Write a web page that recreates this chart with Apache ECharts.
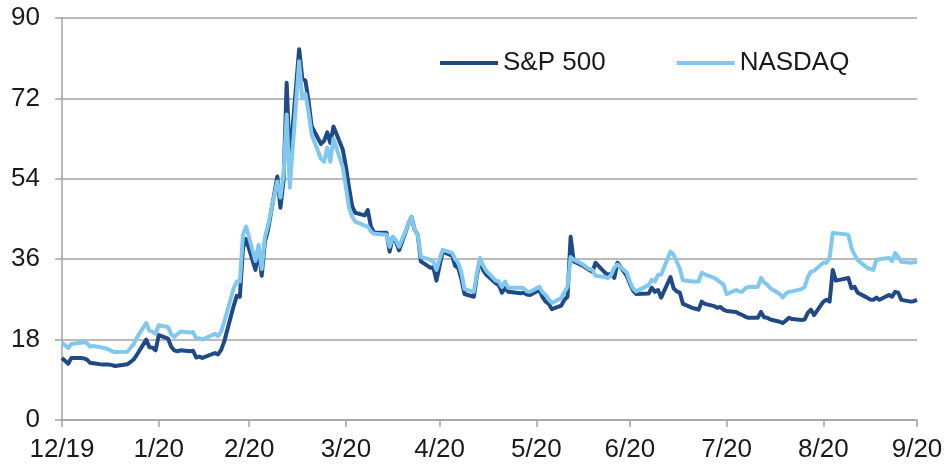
<!DOCTYPE html>
<html>
<head>
<meta charset="utf-8">
<script src="https://cdn.jsdelivr.net/npm/echarts@6/dist/echarts.min.js"></script>
<style>
  html, body { margin: 0; padding: 0; background: #fff; }
  #chart { width: 944px; height: 465px; }
</style>
</head>
<body>
<div id="chart"></div>
<script>
// trading days, Dec 2019 - Sep 2020
const dates = [
  '2019-12-31',
  '2020-01-02','2020-01-03','2020-01-06','2020-01-07','2020-01-08','2020-01-09','2020-01-10','2020-01-13','2020-01-14','2020-01-15',
  '2020-01-16','2020-01-17','2020-01-21','2020-01-22','2020-01-23','2020-01-24','2020-01-27','2020-01-28','2020-01-29','2020-01-30','2020-01-31',
  '2020-02-03','2020-02-04','2020-02-05','2020-02-06','2020-02-07','2020-02-10','2020-02-11','2020-02-12','2020-02-13','2020-02-14',
  '2020-02-18','2020-02-19','2020-02-20','2020-02-21','2020-02-24','2020-02-25','2020-02-26','2020-02-27','2020-02-28',
  '2020-03-02','2020-03-03','2020-03-04','2020-03-05','2020-03-06','2020-03-09','2020-03-10','2020-03-11','2020-03-12','2020-03-13',
  '2020-03-16','2020-03-17','2020-03-18','2020-03-19','2020-03-20','2020-03-23','2020-03-24','2020-03-25','2020-03-26','2020-03-27','2020-03-30','2020-03-31',
  '2020-04-01','2020-04-02','2020-04-03','2020-04-06','2020-04-07','2020-04-08','2020-04-09','2020-04-13','2020-04-14','2020-04-15',
  '2020-04-16','2020-04-17','2020-04-20','2020-04-21','2020-04-22','2020-04-23','2020-04-24','2020-04-27','2020-04-28','2020-04-29','2020-04-30',
  '2020-05-01','2020-05-04','2020-05-05','2020-05-06','2020-05-07','2020-05-08','2020-05-11','2020-05-12','2020-05-13','2020-05-14',
  '2020-05-15','2020-05-18','2020-05-19','2020-05-20','2020-05-21','2020-05-22','2020-05-26','2020-05-27','2020-05-28','2020-05-29',
  '2020-06-01','2020-06-02','2020-06-03','2020-06-04','2020-06-05','2020-06-08','2020-06-09','2020-06-10','2020-06-11','2020-06-12',
  '2020-06-15','2020-06-16','2020-06-17','2020-06-18','2020-06-19','2020-06-22','2020-06-23','2020-06-24','2020-06-25','2020-06-26','2020-06-29','2020-06-30',
  '2020-07-01','2020-07-02','2020-07-06','2020-07-07','2020-07-08','2020-07-09','2020-07-10','2020-07-13','2020-07-14','2020-07-15',
  '2020-07-16','2020-07-17','2020-07-20','2020-07-21','2020-07-22','2020-07-23','2020-07-24','2020-07-27','2020-07-28','2020-07-29','2020-07-30','2020-07-31',
  '2020-08-03','2020-08-04','2020-08-05','2020-08-06','2020-08-07','2020-08-10','2020-08-11','2020-08-12','2020-08-13','2020-08-14',
  '2020-08-17','2020-08-18','2020-08-19','2020-08-20','2020-08-21','2020-08-24','2020-08-25','2020-08-26','2020-08-27','2020-08-28','2020-08-31',
  '2020-09-01','2020-09-02','2020-09-03','2020-09-04','2020-09-08','2020-09-09','2020-09-10','2020-09-11','2020-09-14','2020-09-15',
  '2020-09-16','2020-09-17','2020-09-18','2020-09-21','2020-09-22','2020-09-23','2020-09-24','2020-09-25','2020-09-28','2020-09-29','2020-09-30'
];

const spx = [
  13.9,
  12.6, 13.9, 13.9, 13.8, 13.5, 12.8, 12.7, 12.4, 12.4, 12.4,
  12.3, 12.1, 12.5, 13.0, 13.6, 14.6, 18.0, 16.3, 16.2, 15.6, 19.0,
  18.2, 16.4, 15.6, 15.4, 15.6, 15.4, 15.5, 14.0, 14.2, 13.9,
  15.0, 14.7, 15.7, 17.6, 25.5, 27.8, 27.6, 38.5, 40.5,
  33.6, 38.5, 32.3, 39.8, 42.5, 54.5, 47.5, 53.5, 75.5, 57.8,
  83.0, 76.5, 76.0, 71.5, 65.8, 61.8, 62.5, 64.4, 62.0, 65.7, 60.5, 56.7,
  52.0, 47.8, 46.4, 45.8, 47.0, 43.3, 42.0, 41.9, 37.7, 41.0,
  40.0, 38.0, 43.8, 45.5, 42.6, 41.5, 35.5, 34.1, 34.2, 31.2, 34.5,
  37.7, 36.8, 34.5, 34.0, 31.5, 28.2, 27.6, 32.5, 35.9, 33.5,
  32.5, 30.6, 30.2, 28.5, 29.6, 28.7, 28.4, 28.5, 28.1, 28.0,
  29.1, 27.5, 26.5, 26.0, 24.8, 25.6, 26.9, 27.6, 41.0, 35.5,
  34.5, 34.0, 33.6, 33.2, 35.2, 33.0, 32.5, 32.8, 31.8, 35.2, 32.3, 30.5,
  29.0, 28.2, 28.3, 29.6, 28.7, 29.1, 27.4, 32.0, 29.5, 28.8,
  28.5, 26.0, 25.1, 24.9, 24.7, 26.5, 26.0, 25.5, 25.1, 25.3, 24.7, 24.4,
  24.2, 23.8, 23.5, 23.1, 22.9, 22.9, 24.2, 23.0, 22.9, 22.5,
  22.0, 21.7, 22.3, 22.9, 22.6, 22.4, 22.5, 24.0, 24.7, 23.5, 26.5,
  26.9, 26.5, 33.6, 31.2, 31.8, 29.5, 29.8, 28.5, 27.4, 27.0,
  26.9, 27.4, 26.9, 28.0, 27.6, 28.7, 28.5, 26.9, 26.5, 26.6, 26.9
];

const ndx = [
  17.3,
  16.1, 17.0, 17.3, 17.4, 17.2, 16.4, 16.6, 16.2, 16.0, 15.8,
  15.4, 15.2, 15.3, 16.2, 17.0, 18.5, 21.7, 20.0, 19.8, 19.3, 21.2,
  20.8, 19.2, 18.6, 19.3, 19.8, 19.6, 19.7, 18.2, 18.3, 18.0,
  19.3, 18.8, 19.8, 22.0, 29.5, 31.0, 31.0, 41.5, 43.3,
  35.6, 39.2, 33.8, 40.8, 43.5, 53.4, 49.8, 55.0, 68.4, 52.0,
  80.3, 72.0, 73.0, 69.0, 63.9, 58.5, 57.8, 61.0, 57.8, 63.0, 56.5, 52.0,
  47.5, 45.5, 44.4, 43.5, 43.3, 42.2, 41.7, 41.5, 38.8, 41.0,
  40.3, 38.8, 43.8, 45.5, 42.6, 41.5, 36.5, 35.9, 35.5, 33.6, 36.0,
  38.1, 37.4, 36.0, 35.2, 33.0, 29.3, 28.7, 33.0, 36.3, 34.5,
  33.4, 31.2, 31.0, 29.8, 31.0, 29.6, 29.6, 29.5, 28.8, 28.7,
  29.8, 28.6, 28.0, 27.0, 26.2, 27.3, 28.6, 29.8, 36.5, 35.9,
  34.8, 34.3, 33.8, 33.6, 32.3, 32.0, 31.8, 32.5, 34.1, 34.8, 33.0, 31.0,
  29.5, 28.8, 30.2, 31.4, 31.0, 32.5, 32.5, 37.7, 37.0, 35.5,
  33.8, 31.3, 31.0, 31.0, 31.0, 33.0, 32.6, 31.8, 31.4, 30.8, 30.3, 28.2,
  29.1, 28.8, 28.7, 29.5, 29.8, 29.8, 31.8, 30.8, 30.3, 29.5,
  28.2, 27.4, 28.3, 28.7, 28.8, 29.3, 29.8, 32.0, 33.2, 33.4, 35.2,
  35.2, 36.3, 41.9, 41.8, 41.5, 38.5, 37.0, 35.8, 34.1, 33.8,
  33.6, 35.9, 36.0, 36.3, 35.6, 37.4, 36.5, 35.4, 35.2, 35.3, 35.4
];

// month-end ticks and their labels
const tickDates = ['2019-12-31', '2020-01-31', '2020-02-29', '2020-03-31', '2020-04-30',
  '2020-05-31', '2020-06-30', '2020-07-31', '2020-08-31', '2020-09-30'];
const tickLabels = ['12/19', '1/20', '2/20', '3/20', '4/20', '5/20', '6/20', '7/20', '8/20', '9/20'];
const yTicks = [0, 18, 36, 54, 72, 90];

// x is counted in calendar days from the first tick date
const DAY = 86400000;
const origin = Date.UTC(2019, 11, 31);
const toDay = (s) => {
  const p = s.split('-');
  return Math.round((Date.UTC(+p[0], +p[1] - 1, +p[2]) - origin) / DAY);
};
const tickDays = tickDates.map(toDay);

const chart = echarts.init(document.getElementById('chart'));

const gridColor = '#a3a3a3';
const textStyle = { fontFamily: '"Liberation Sans", Arial, sans-serif', fontSize: 26, color: '#1a1a1a' };

chart.setOption({
  animation: false,
  grid: { left: 62, right: 27, top: 18, bottom: 45, outerBoundsMode: 'none' },
  legend: {
    left: 435,
    top: 45,
    icon: 'rect',
    itemWidth: 58,
    itemHeight: 4,
    itemGap: 71,
    textStyle: textStyle,
    data: ['S&P 500', 'NASDAQ']
  },
  xAxis: {
    type: 'value',
    min: tickDays[0],
    max: tickDays[tickDays.length - 1],
    axisLine: { lineStyle: { color: gridColor, width: 1.5 } },
    axisTick: { show: true, length: 7, customValues: tickDays, lineStyle: { color: gridColor, width: 1.5 } },
    axisLabel: {
      customValues: tickDays,
      margin: 17,
      ...textStyle,
      formatter: (v) => {
        const i = tickDays.indexOf(v);
        return i >= 0 ? tickLabels[i] : '';
      }
    },
    splitLine: { show: false }
  },
  yAxis: {
    type: 'value',
    min: yTicks[0],
    max: yTicks[yTicks.length - 1],
    interval: 18,
    axisLine: { show: true, lineStyle: { color: gridColor, width: 1.5 } },
    axisTick: { show: true, length: 7, lineStyle: { color: gridColor, width: 1.5 } },
    axisLabel: { margin: 22, ...textStyle },
    splitLine: { lineStyle: { color: gridColor, width: 1.5 } }
  },
  series: [
    {
      name: 'S&P 500',
      type: 'line',
      showSymbol: false,
      symbol: 'none',
      color: '#1f4a85',
      lineStyle: { width: 4, join: 'round' },
      data: dates.map((d, i) => [toDay(d), spx[i]])
    },
    {
      name: 'NASDAQ',
      type: 'line',
      showSymbol: false,
      symbol: 'none',
      color: '#80c8ee',
      lineStyle: { width: 4, join: 'round' },
      data: dates.map((d, i) => [toDay(d), ndx[i]])
    }
  ]
});

window.addEventListener('resize', () => chart.resize());
</script>
</body>
</html>
